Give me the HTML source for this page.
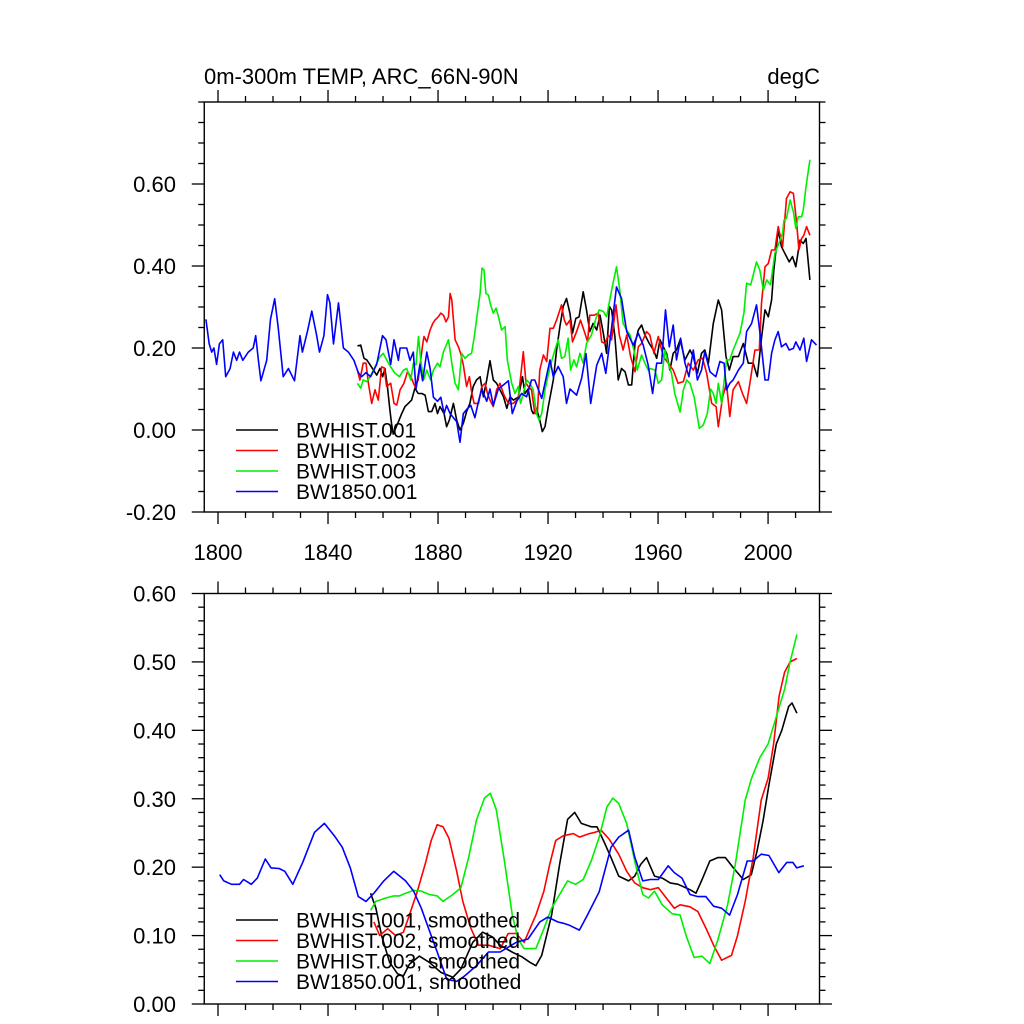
<!DOCTYPE html>
<html><head><meta charset="utf-8">
<style>
html,body{margin:0;padding:0;background:#fff;}
svg{display:block;font-family:"Liberation Sans",Arial,sans-serif;}
</style></head>
<body>
<svg id="chart" width="1024" height="1024" viewBox="0 0 1024 1024" xmlns="http://www.w3.org/2000/svg">
<text x="204" y="84" font-size="22">0m-300m TEMP, ARC_66N-90N</text>
<text x="820" y="84" font-size="22" text-anchor="end">degC</text>
</svg>
<script>
// ---------- data: top panel (annual) ----------
const blueYears=[1795.6,1796.8,1797.7,1798.5,1799.5,1800.5,1801.7,1802.8,1804.4,1805.6,1806.8,1807.8,1809,1811,1812.8,1813.7,1814.7,1815.6,1817.7,1819.1,1820.6,1821.9,1823.7,1825.6,1827.8,1829.8,1830.7,1832.5,1834.1,1835.9,1836.9,1838.5,1839.8,1840.7,1842,1843.8,1845.6,1847.4,1849.4,1851,1852.2,1853.8,1855.5,1857.7,1859.8,1861.1,1862.8,1864,1865.6,1866.2,1868.6,1869.8,1871,1872,1873.4,1874.4,1875.9,1877.1,1878.3,1879.8,1881,1882.2,1883.1,1884.4,1886.8,1888,1889.2,1890.4,1891.9,1893.4,1894.7,1895.9,1897.7,1898.9,1900.1,1901.9,1903.8,1905.6,1907,1908.6,1910.4,1912.2,1914,1915.2,1917.7,1920.7,1921.9,1923.7,1925.5,1926.7,1928,1930.4,1932.2,1933.8,1935.5,1937.7,1939.5,1941,1943.1,1944.9,1946.7,1948.6,1951,1952.8,1954.6,1956.4,1958,1959.5,1961.3,1962.7,1964.1,1965.5,1966.7,1968.2,1969.8,1971.2,1972.8,1974.3,1975.8,1977,1978.9,1981,1982.5,1984,1984.9,1986.1,1987.3,1989.2,1991,1992.2,1994,1995.8,1997,1998.9,2000.1,2001.3,2002.5,2003.7,2004.9,2006.5,2007.7,2009.2,2010.1,2011.6,2013,2014,2015.8,2017.6];
const blueVals=[.27,.21,.19,.20,.16,.21,.22,.13,.15,.19,.17,.19,.17,.19,.20,.23,.17,.12,.17,.27,.32,.25,.13,.15,.12,.23,.19,.24,.29,.23,.19,.23,.33,.31,.21,.31,.20,.19,.17,.14,.13,.14,.13,.16,.23,.22,.16,.22,.17,.20,.20,.17,.19,.10,.16,.12,.19,.15,.08,.07,.08,.04,.06,.04,.02,-.03,.04,.05,.06,.03,.07,.10,.07,.10,.06,.10,.11,.12,.04,.07,.089,.081,.122,.122,.077,.171,.13,.155,.13,.065,.10,.085,.126,.186,.065,.158,.187,.138,.25,.349,.321,.24,.207,.236,.207,.158,.089,.163,.163,.293,.203,.256,.171,.224,.163,.13,.195,.122,.146,.191,.142,.13,.167,.163,.098,.114,.122,.146,.163,.24,.26,.305,.24,.122,.122,.187,.22,.24,.203,.211,.195,.199,.215,.195,.224,.167,.22,.207];
const blackYears=[1850.7,1851.9,1853.1,1854.1,1855.3,1856.5,1857.7,1858.9,1859.9,1860.7,1861.6,1862.5,1863.1,1863.7,1865.6,1866.8,1868,1869.2,1870.4,1871.6,1872.8,1874.1,1875.3,1876.5,1877.7,1878.9,1879.8,1880.7,1882.2,1883.1,1884.1,1885.6,1886.8,1888,1889.2,1890.4,1891.6,1892.8,1894,1895.3,1896.5,1897.7,1898.9,1900.1,1901.3,1902.5,1903.8,1905,1906.2,1907.4,1909.2,1910.7,1911.6,1912.8,1914,1914.6,1915.8,1917,1917.9,1918.9,1920.1,1921.9,1923.1,1924.3,1925.5,1926.7,1928,1928.9,1930.1,1931.3,1932.8,1934,1935.2,1936.4,1937.7,1938.9,1940.1,1941.3,1942.3,1943.1,1944.3,1945.5,1946.7,1948,1949.2,1950.4,1951.6,1952.8,1954,1955.2,1956.8,1958.3,1959.5,1960.7,1961.9,1963.1,1964.3,1965.5,1966.7,1968,1969.8,1971.6,1972.8,1974.3,1975.8,1977,1978.3,1980.1,1981.9,1983.1,1984.7,1985.9,1987.3,1989.2,1991,1992.8,1994.6,1996.1,1997.7,1998.9,2000.1,2001.3,2002.1,2003.7,2004.9,2006.1,2007.7,2008.9,2010.1,2011.6,2012.8,2013.8,2015.2];
const blackVals=[.205,.207,.175,.171,.159,.146,.134,.15,.13,.15,.106,.049,.016,-.01,.02,.04,.057,.065,.073,.102,.089,.089,.085,.045,.045,.065,.04,.057,.04,.008,.024,.065,.024,0,.016,.045,.065,.106,.122,.13,.081,.122,.169,.122,.114,.098,.081,.053,.081,.073,.08,.13,.089,.10,.049,.04,.053,.024,-.004,.008,.057,.122,.195,.252,.301,.321,.284,.236,.272,.276,.337,.293,.24,.26,.244,.28,.236,.187,.301,.293,.228,.122,.15,.142,.11,.11,.211,.244,.256,.232,.211,.195,.175,.22,.203,.187,.146,.187,.195,.22,.171,.195,.179,.138,.187,.195,.163,.26,.317,.293,.179,.146,.179,.179,.211,.163,.163,.13,.228,.293,.276,.317,.39,.488,.447,.431,.41,.423,.398,.463,.455,.467,.366];
const redYears=[1850.7,1851.6,1852.8,1853.8,1854.7,1855.9,1857.1,1858.3,1859.5,1860.4,1861.3,1862.8,1864,1865,1866.2,1867.6,1868.9,1870.1,1871.6,1872.8,1874.4,1874.9,1875.9,1877.1,1878.1,1878.9,1880.1,1881,1882,1882.9,1883.8,1884.4,1885,1886.2,1887.4,1888.2,1889.2,1890.4,1891.4,1892.2,1893.1,1894.7,1895.9,1897.1,1898,1898.9,1900.1,1901.3,1902.5,1904,1905.6,1907.4,1909.2,1911,1912,1912.8,1914,1915.2,1916.1,1917,1918.3,1919.5,1920.7,1921.9,1923.1,1924.9,1925.9,1926.7,1928,1928.9,1930.4,1931.8,1933.4,1934.4,1935.2,1936.8,1938.3,1939.5,1940.7,1941.9,1943.1,1944.7,1945.9,1947.3,1948.6,1950,1951.6,1952.8,1954,1955.8,1957,1958.5,1960.1,1961.9,1963.7,1965.5,1967.3,1969.2,1971,1972.8,1974.6,1976.2,1977.7,1979.5,1981.1,1981.9,1983.5,1984.9,1986.1,1987.3,1989.2,1990.7,1992.2,1993.4,1995.2,1996.8,1997.6,1998.9,2000.1,2001.3,2002.5,2003.7,2005.3,2006.7,2008,2009.2,2010.4,2011.2,2012.2,2013,2014,2015.2];
const redVals=[.146,.122,.163,.163,.114,.065,.098,.073,.154,.152,.106,.114,.065,.061,.098,.114,.142,.13,.106,.122,.207,.228,.215,.244,.26,.268,.276,.285,.28,.264,.276,.333,.317,.22,.203,.187,.159,.106,.13,.093,.065,.065,.106,.114,.089,.073,.057,.098,.114,.085,.065,.065,.077,.191,.114,.106,.098,.04,.04,.146,.183,.167,.248,.248,.268,.305,.268,.256,.268,.215,.24,.268,.236,.215,.28,.28,.285,.215,.211,.232,.22,.305,.232,.195,.232,.179,.142,.203,.211,.24,.232,.187,.228,.179,.163,.146,.114,.118,.163,.146,.171,.175,.138,.065,.057,.008,.081,.114,.033,.098,.118,.089,.065,.114,.195,.195,.309,.398,.406,.439,.439,.496,.447,.565,.581,.577,.504,.439,.467,.475,.496,.475];
const greenYears=[1850.7,1851.9,1852.8,1854.1,1855.3,1856.5,1857.7,1858.9,1860.1,1861.3,1862.8,1864.4,1866,1867.4,1868.6,1870.1,1871,1872,1872.9,1873.7,1874.7,1875.9,1877.3,1878.3,1879.8,1880.7,1882,1883.8,1885,1886.2,1887.4,1888.6,1889.8,1891,1892.2,1893.2,1894.3,1895.3,1896,1896.7,1897.4,1898.3,1899.1,1900.1,1901.1,1902,1903.1,1904.4,1905.2,1906.8,1908,1909.2,1910,1911,1912.2,1913.4,1914.6,1915.8,1916.7,1917.7,1918.9,1920.7,1922.5,1923.7,1924.9,1926.1,1927.3,1928.2,1929.4,1930.4,1931.6,1932.8,1934,1935.8,1937.4,1938.6,1940.1,1941.3,1943.1,1944.9,1946.1,1947.3,1948.6,1949.8,1951.2,1952.4,1954,1955.2,1956.4,1957.3,1958.9,1960.1,1961.3,1962.5,1963.7,1964.9,1966.1,1968,1969.2,1970.4,1971.6,1973.1,1975,1976.4,1977.9,1979.1,1980.1,1981.1,1981.9,1983.1,1984.9,1986.1,1987.3,1989.8,1991.2,1992.2,1993.7,1995.8,1997,1998.3,1999.5,2000.9,2002.5,2003.7,2005.3,2005.8,2006.7,2008,2009.2,2010.1,2011,2012.2,2012.8,2013.8,2015.2];
const greenVals=[.114,.102,.122,.118,.13,.146,.163,.179,.187,.171,.154,.138,.13,.146,.15,.122,.163,.159,.228,.171,.122,.146,.122,.146,.163,.154,.191,.22,.163,.114,.098,.187,.175,.183,.187,.228,.285,.333,.395,.39,.333,.329,.305,.285,.297,.276,.244,.252,.171,.114,.089,.106,.065,.089,.122,.114,.098,.04,.024,.04,.098,.154,.195,.22,.175,.179,.224,.146,.171,.154,.187,.163,.211,.232,.272,.293,.289,.276,.341,.398,.341,.26,.244,.232,.195,.146,.183,.163,.146,.15,.146,.114,.122,.195,.163,.138,.089,.044,.098,.122,.114,.081,.004,.012,.04,.10,.089,.065,.114,.065,.171,.171,.195,.236,.285,.358,.354,.41,.39,.341,.366,.354,.431,.451,.48,.512,.516,.561,.532,.492,.52,.52,.537,.593,.659];

// ---------- data: bottom panel (smoothed) ----------
const sBlueYears=[1800.6,1802.1,1804.9,1807.8,1809.3,1812.1,1814.3,1817.2,1819.3,1822.2,1824.3,1827.2,1830.8,1835.1,1838.7,1842.3,1845.2,1848.1,1851,1853.8,1856.7,1860.3,1863.9,1868.2,1871.1,1873.9,1876.8,1879.7,1883.2,1886.8,1889.7,1894,1898.3,1902.6,1908.4,1912.7,1917,1919.9,1923.5,1925.6,1927.8,1931.4,1934.3,1938.6,1942.9,1945.7,1949.3,1951.5,1954.4,1957.2,1960.1,1963.7,1965.9,1968.7,1971.6,1974.5,1977.4,1980.2,1983.1,1986,1988.9,1992.4,1994.6,1997.5,2000.3,2003.9,2006.8,2009,2010.4,2013];
const sBlueVals=[.189,.18,.175,.175,.182,.175,.184,.212,.199,.198,.194,.175,.207,.251,.264,.246,.229,.199,.157,.15,.162,.18,.194,.18,.165,.14,.108,.076,.036,.033,.041,.056,.076,.076,.09,.095,.12,.127,.12,.118,.115,.108,.13,.164,.229,.244,.254,.215,.18,.182,.182,.202,.192,.184,.16,.157,.157,.143,.14,.13,.16,.209,.209,.219,.217,.192,.207,.207,.199,.202];
const sBlackYears=[1855.5,1857.4,1859.5,1862.4,1865.3,1867.4,1869.6,1873.2,1876.8,1881.1,1885.4,1888.3,1892.6,1896.2,1899.8,1902.6,1906.9,1910.5,1913.4,1915.6,1917.7,1921.3,1924.2,1927.1,1929.7,1932.1,1935.7,1937.8,1940.7,1942.9,1945.7,1949.3,1951.5,1953.7,1955.8,1958.7,1961.5,1964.4,1967.3,1971.6,1973.8,1976,1978.8,1981.7,1984.5,1987.4,1991,1993.9,1996,1998.2,2000.3,2003,2005,2007.5,2008.7,2010.5];
const sBlackVals=[.162,.14,.10,.061,.044,.041,.058,.07,.061,.046,.039,.051,.09,.105,.098,.086,.076,.069,.061,.056,.071,.13,.204,.27,.28,.264,.259,.259,.234,.214,.187,.18,.187,.204,.214,.187,.184,.177,.175,.167,.162,.182,.209,.214,.214,.199,.182,.189,.224,.268,.32,.38,.40,.435,.44,.425];
const sRedYears=[1856.7,1858.8,1861.7,1864.6,1867.4,1869.6,1872.5,1875.3,1877.5,1879.7,1881.8,1884,1886.8,1889,1891.9,1894.7,1898.3,1902.6,1905.5,1908.4,1911.3,1913.4,1915.6,1918.5,1920.6,1922.8,1925.6,1929.2,1931.4,1935,1937.1,1939.3,1942.2,1945.7,1948.6,1951.5,1954.4,1957.2,1960.1,1963,1965.9,1968,1971.6,1974.5,1977.4,1980.2,1983.1,1986.7,1988.9,1991.7,1994.6,1997.5,2000,2002,2004,2006,2008,2010.5];
const sRedVals=[.12,.10,.11,.10,.105,.13,.165,.204,.239,.262,.259,.242,.194,.15,.111,.086,.086,.081,.103,.103,.09,.11,.13,.165,.204,.239,.246,.249,.244,.249,.251,.254,.241,.219,.194,.177,.17,.167,.17,.155,.14,.145,.142,.135,.111,.086,.064,.071,.10,.15,.214,.298,.33,.38,.45,.485,.50,.505];
const sGreenYears=[1855.5,1857.4,1861,1863.9,1866,1868.2,1871.1,1873.9,1876.8,1879.7,1881.8,1885.4,1888.3,1891.1,1894,1896.9,1899,1901.2,1904.1,1907,1909.1,1911.3,1915.6,1918.5,1921.3,1924.2,1927.1,1930,1932.8,1935.7,1938.6,1941.4,1943.6,1945.7,1948.6,1951.5,1954.4,1956.5,1958.7,1961.5,1965.1,1968,1970.2,1973.1,1975.9,1978.8,1981.7,1985.3,1988.1,1991.7,1994,1997,2000,2003,2006,2008,2010.5];
const sGreenVals=[.137,.15,.155,.158,.158,.162,.166,.165,.16,.158,.15,.16,.17,.214,.269,.301,.308,.284,.21,.13,.095,.081,.081,.11,.14,.16,.18,.175,.182,.209,.244,.288,.301,.293,.264,.209,.16,.155,.165,.145,.132,.13,.10,.068,.07,.059,.093,.145,.204,.298,.33,.36,.38,.42,.46,.50,.54];

const topTicksY=[-0.2,0,0.2,0.4,0.6];
const botTicksY=[0,0.1,0.2,0.3,0.4,0.5,0.6];
const xTicks=[1800,1840,1880,1920,1960,2000];

// ---------- layout ----------
const X0=204.25,X1=819.5,Y0=1795,Y1=2018.7;
const xs=y=>X0+(y-Y0)/(Y1-Y0)*(X1-X0);
const TOP={t:102,b:512,vmin:-0.2,vmax:0.8};
const BOT={t:593.5,b:1004,vmin:0,vmax:0.6};
const ys=(p,v)=>p.b-(v-p.vmin)/(p.vmax-p.vmin)*(p.b-p.t);
const svg=document.getElementById('chart');
const NS='http://www.w3.org/2000/svg';
function mk(tag,attrs,parent){const e=document.createElementNS(NS,tag);for(const k in attrs)e.setAttribute(k,attrs[k]);(parent||svg).appendChild(e);return e;}
function line(x1,y1,x2,y2,g){return mk('line',{x1,y1,x2,y2,stroke:'#000','stroke-width':1.3},g);}

function panel(p,name,ticks,minorStep,labelsX){
  const g=mk('g',{});
  
  
  mk('rect',{x:X0,y:p.t,width:X1-X0,height:p.b-p.t,fill:'none',stroke:'#000','stroke-width':1.4},g);
  for(let v=p.vmin;v<=p.vmax+1e-9;v+=minorStep){
    const y=ys(p,v);
    const major=ticks.some(t=>Math.abs(t-v)<1e-6);
    const L=major?12.5:6;
    line(X0-L,y,X0,y,g);line(X1,y,X1+L,y,g);
  }
  ticks.forEach(t=>{
    const tx=mk('text',{x:176,y:ys(p,t)+8,'font-size':22,'text-anchor':'end'},g);
    tx.textContent=t.toFixed(2);
    
    
  });
  for(let yr=1800;yr<=2010;yr+=10){
    const x=xs(yr);const major=yr%40===0;const L=major?12:6;
    line(x,p.b,x,p.b+L,g);line(x,p.t-L,x,p.t,g);
  }
  if(labelsX){xTicks.forEach(t=>{
    const tx=mk('text',{x:xs(t),y:p.b+48,'font-size':22,'text-anchor':'middle'},g);
    tx.textContent=t;
    
    
  });}
}
panel(TOP,'top-panel',topTicksY,0.05,true);
panel(BOT,'bottom-panel',botTicksY,0.02,false);

function series(p,yrs,vals,color,name){
  const d=yrs.map((y,i)=>(i?'L':'M')+xs(y).toFixed(1)+' '+ys(p,vals[i]).toFixed(1)).join(' ');
  const e=mk('path',{d,fill:'none',stroke:color,'stroke-width':1.6,'stroke-linejoin':'round'});
  
  
}
series(TOP,blackYears,blackVals,'#000','line-bwhist-001');
series(TOP,redYears,redVals,'#ff0000','line-bwhist-002');
series(TOP,greenYears,greenVals,'#00ee00','line-bwhist-003');
series(TOP,blueYears,blueVals,'#0000ff','line-bw1850-001');
series(BOT,sBlackYears,sBlackVals,'#000','line-bwhist-001-smoothed');
series(BOT,sRedYears,sRedVals,'#ff0000','line-bwhist-002-smoothed');
series(BOT,sGreenYears,sGreenVals,'#00ee00','line-bwhist-003-smoothed');
series(BOT,sBlueYears,sBlueVals,'#0000ff','line-bw1850-001-smoothed');

function legend(y0,labels,name){
  const cols=['#000','#ff0000','#00ee00','#0000ff'];
  labels.forEach((lab,i)=>{
    const y=y0+i*20.5;
    const g=mk('g',{});
    
    
    mk('line',{x1:236,y1:y,x2:278,y2:y,stroke:cols[i],'stroke-width':1.6},g);
    const t=mk('text',{x:296,y:y+7.5,'font-size':21},g);
    t.textContent=lab;
  });
}
legend(430,['BWHIST.001','BWHIST.002','BWHIST.003','BW1850.001'],'top-legend');
legend(920,['BWHIST.001, smoothed','BWHIST.002, smoothed','BWHIST.003, smoothed','BW1850.001, smoothed'],'bottom-legend');
</script>
</body></html>
